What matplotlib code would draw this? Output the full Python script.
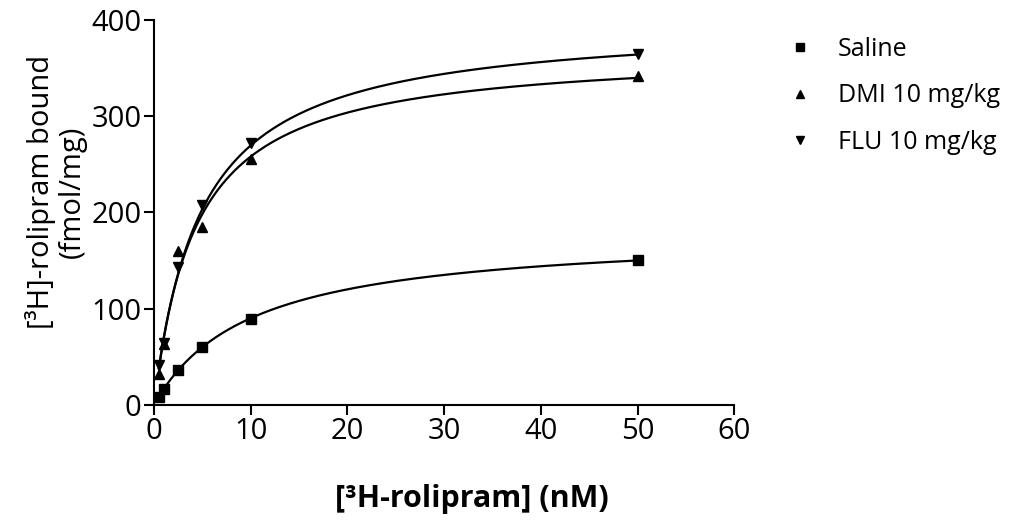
import numpy as np
import matplotlib
matplotlib.use("Agg")
import matplotlib.pyplot as plt
from matplotlib.lines import Line2D

plt.rcParams['font.family'] = ['Open Sans', 'DejaVu Sans']

# Concentrations (nM) and bound values (fmol/mg)
conc = [0.5, 1, 2.5, 5, 10, 50]
saline = [8, 16, 36, 60, 89, 150]
dmi = [32, 63, 160, 185, 255, 342]
flu = [41, 64, 143, 208, 272, 365]

# One-site binding fit parameters (Bmax, Kd) as drawn
saline_fit = (180, 10.0)
dmi_fit = (369, 4.3)
flu_fit = (399, 4.8)

labels = ['Saline', 'DMI 10 mg/kg', 'FLU 10 mg/kg']
markers = ['s', '^', 'v']

fig = plt.figure(figsize=(10.27, 5.25), dpi=100)
ax = fig.add_axes([0.150, 0.229, 0.565, 0.733])

xs = np.linspace(0.5, 50, 400)
handles = []
for vals, (bmax, kd), lab, mk in zip([saline, dmi, flu],
                                    [saline_fit, dmi_fit, flu_fit],
                                    labels, markers):
    ax.plot(xs, bmax * xs / (kd + xs), color='black', linewidth=1.6)
    ax.plot(conc, vals, linestyle='none', marker=mk, color='black',
            markersize=6.5)
    handles.append(Line2D([0], [0], linestyle='none', marker=mk,
                          color='black', markersize=5.5, label=lab))

ax.set_xlim(0, 60)
ax.set_ylim(0, 400)
ax.set_xticks(np.arange(0, 61, 10))
ax.set_yticks(np.arange(0, 401, 100))
ax.spines['top'].set_visible(False)
ax.spines['right'].set_visible(False)
for s in ['left', 'bottom']:
    ax.spines[s].set_linewidth(1.5)
ax.tick_params(axis='both', direction='out', length=7, width=1.5,
               labelsize=21, pad=2)

ax.set_xlabel('[³H-rolipram] (nM)', fontsize=22, fontweight='bold')
ax.xaxis.set_label_coords(0.548, -0.205)

# y label placed as figure text so its centre matches the reference
fig.text(56 / 1027, 1 - 192 / 525, '[³H]-rolipram bound\n(fmol/mg)',
         rotation=90, ha='center', va='center', multialignment='center',
         fontsize=21, linespacing=1.05)

fig.legend(handles=handles, loc='upper left', bbox_to_anchor=(0.745, 0.972),
           frameon=False, fontsize=18, handlelength=1.0, handletextpad=1.0,
           labelspacing=0.85)

fig.savefig('out.png', dpi=100, facecolor='white')
